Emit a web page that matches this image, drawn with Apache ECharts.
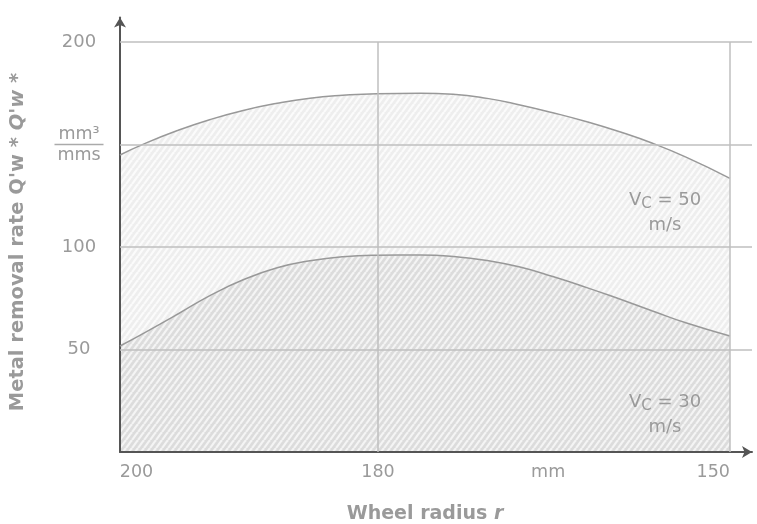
<!DOCTYPE html>
<html><head><meta charset="utf-8">
<script src="https://cdn.jsdelivr.net/npm/echarts@6/dist/echarts.min.js"></script>
<style>html,body{margin:0;padding:0;background:#fff}#c{width:757px;height:524px}</style>
</head><body><div id="c"></div><script>
// ---- data ----
const radius  = [202, 200, 197.1, 194.3, 191.5, 188.6, 185.8, 183, 180.1, 176.4, 173.6, 170.7, 167.9, 165.1, 162.2, 159.4, 156.6, 153.7, 150];
const rateV50 = [144.9, 150.2, 156.8, 162.2, 166.6, 170.1, 172.6, 174.0, 174.8, 175.0, 174.5, 172.5, 169.3, 165.5, 161.1, 156.2, 150.6, 143.7, 133.5];
const rateV30 = [51.7, 57.9, 67.2, 76.4, 84.0, 89.9, 93.3, 95.3, 96.0, 96.1, 95.4, 93.4, 90.2, 85.6, 80.2, 74.6, 68.8, 62.9, 56.6];
const xMin = 148.12, xMax = 202;
const yMin = 0, yMax = 212;
const xTickValues = [200, 180, 165.5, 150];
const xTickLabels = ['200', '180', 'mm', '150'];
const xGridValues = [180, 150];
const yTickValues = [50, 100, 150, 200];
const yTickLabels = ['50', '100', '{a|mm³}\n{l|}\n{b|mms}', '200'];
const seriesNames = ['V50', 'V30'];
const annotV50 = ['V', 'C', ' = 50', 'm/s'];
const annotV30 = ['V', 'C', ' = 30', 'm/s'];
const xTitle = ['Wheel radius ', 'r'];
const yTitle = ['Metal removal rate Q\'w * ', 'Q\'w *'];

// ---- styles ----
const FONT = 'DejaVu Sans';
const TXT = '#9a9a9a';
const GRID = '#bfbfbf';
function hatch(bg, fg) {
  const w = 6, h = 8;
  const c = document.createElement('canvas');
  c.width = w; c.height = h;
  const g = c.getContext('2d');
  g.fillStyle = bg; g.fillRect(0, 0, w, h);
  g.strokeStyle = fg; g.lineWidth = 2.2;
  for (let k = -1; k <= 1; k++) {
    g.beginPath(); g.moveTo(k * w, h); g.lineTo(k * w + w, 0); g.stroke();
  }
  return { image: c, repeat: 'repeat' };
}

const chart = echarts.init(document.getElementById('c'), null, { renderer: 'canvas' });
const pairs = (ys) => radius.map((r, i) => [r, ys[i]]);
const vGrid = xGridValues.map(v => [{ coord: [v, yMin] }, { coord: [v, yTickValues[yTickValues.length - 1]] }]);
const hGrid = yTickValues.map(v => [{ coord: [xMax, v] }, { coord: [xMin, v] }]);

chart.setOption({
  animation: false,
  backgroundColor: '#fff',
  grid: { left: 120, right: 5, top: 17.4, bottom: 72, containLabel: false, outerBoundsMode: 'none' },
  xAxis: {
    type: 'value', inverse: true, min: xMin, max: xMax, z: 3,
    axisLine: { show: true, symbol: ['none', 'arrow'], symbolSize: [9, 10], lineStyle: { color: '#555', width: 2 } },
    axisTick: { show: false },
    splitLine: { show: false },
    axisLabel: {
      customValues: xTickValues, margin: 11, color: TXT, fontFamily: FONT, fontSize: 17.5,
      alignMinLabel: 'center', alignMaxLabel: 'right',
      formatter: (v) => {
        const i = xTickValues.indexOf(v);
        if (i < 0) return '';
        return i === 0 ? `{p|${xTickLabels[i]}}` : xTickLabels[i];
      },
      rich: { p: { color: TXT, fontFamily: FONT, fontSize: 17.5, padding: [0, 14, 0, 0] } }
    }
  },
  yAxis: {
    type: 'value', min: yMin, max: yMax, z: 3,
    axisLine: { show: true, symbol: ['none', 'arrow'], symbolSize: [9, 10], lineStyle: { color: '#555', width: 2 } },
    axisTick: { show: false, customValues: yTickValues },
    splitLine: { show: false },
    axisLabel: {
      customValues: yTickValues, margin: 41, align: 'center', color: TXT, fontFamily: FONT, fontSize: 18,
      formatter: v => yTickLabels[yTickValues.indexOf(v)] ?? '',
      rich: {
        a: { color: TXT, fontFamily: FONT, fontSize: 17.5, lineHeight: 18, align: 'center' },
        l: { width: 49, height: 1.5, lineHeight: 3, backgroundColor: '#aaa', align: 'center' },
        b: { color: TXT, fontFamily: FONT, fontSize: 17.5, lineHeight: 18, align: 'center' }
      }
    }
  },
  series: [
    {
      name: seriesNames[0], type: 'line', smooth: true, symbol: 'none',
      data: pairs(rateV50),
      lineStyle: { color: '#999', width: 1.5 },
      areaStyle: { color: hatch('#eeeeee', '#fbfbfb'), opacity: 1 },
      markLine: {
        silent: true, symbol: ['none', 'none'], label: { show: false },
        lineStyle: { color: GRID, width: 1.5, type: 'solid' },
        data: vGrid.concat(hGrid)
      }
    },
    {
      name: seriesNames[1], type: 'line', smooth: true, symbol: 'none',
      data: pairs(rateV30),
      lineStyle: { color: '#999', width: 1.5 },
      areaStyle: { color: hatch('#dcdcdc', '#f4f4f4'), opacity: 1 }
    }
  ],
  graphic: [
    {
      type: 'text', x: 665, y: 213, z: 10,
      style: {
        text: `{v|${annotV50[0]}}{c|${annotV50[1]}}{v|${annotV50[2]}}\n{v|${annotV50[3]}}`,
        align: 'center', verticalAlign: 'middle',
        rich: {
          v: { fill: TXT, fontFamily: FONT, fontSize: 18, lineHeight: 25 },
          c: { fill: TXT, fontFamily: FONT, fontSize: 15, lineHeight: 25, padding: [7, 0, 0, 0] }
        }
      }
    },
    {
      type: 'text', x: 665, y: 415, z: 10,
      style: {
        text: `{v|${annotV30[0]}}{c|${annotV30[1]}}{v|${annotV30[2]}}\n{v|${annotV30[3]}}`,
        align: 'center', verticalAlign: 'middle',
        rich: {
          v: { fill: TXT, fontFamily: FONT, fontSize: 18, lineHeight: 25 },
          c: { fill: TXT, fontFamily: FONT, fontSize: 15, lineHeight: 25, padding: [7, 0, 0, 0] }
        }
      }
    },
    {
      type: 'text', x: 425, y: 514,
      style: {
        text: `{b|${xTitle[0]}}{i|${xTitle[1]}}`, align: 'center', verticalAlign: 'middle',
        rich: {
          b: { fill: TXT, fontFamily: FONT, fontSize: 19, fontWeight: 'bold' },
          i: { fill: TXT, fontFamily: FONT, fontSize: 19, fontWeight: 'bold', fontStyle: 'italic' }
        }
      }
    },
    {
      type: 'text', x: 18, y: 242, rotation: Math.PI / 2,
      style: {
        text: `{b|${yTitle[0]}}{i|${yTitle[1]}}`, align: 'center', verticalAlign: 'middle',
        rich: {
          b: { fill: TXT, fontFamily: FONT, fontSize: 19.5, fontWeight: 'bold' },
          i: { fill: TXT, fontFamily: FONT, fontSize: 19.5, fontWeight: 'bold', fontStyle: 'italic' }
        }
      }
    }
  ]
});
</script></body></html>
